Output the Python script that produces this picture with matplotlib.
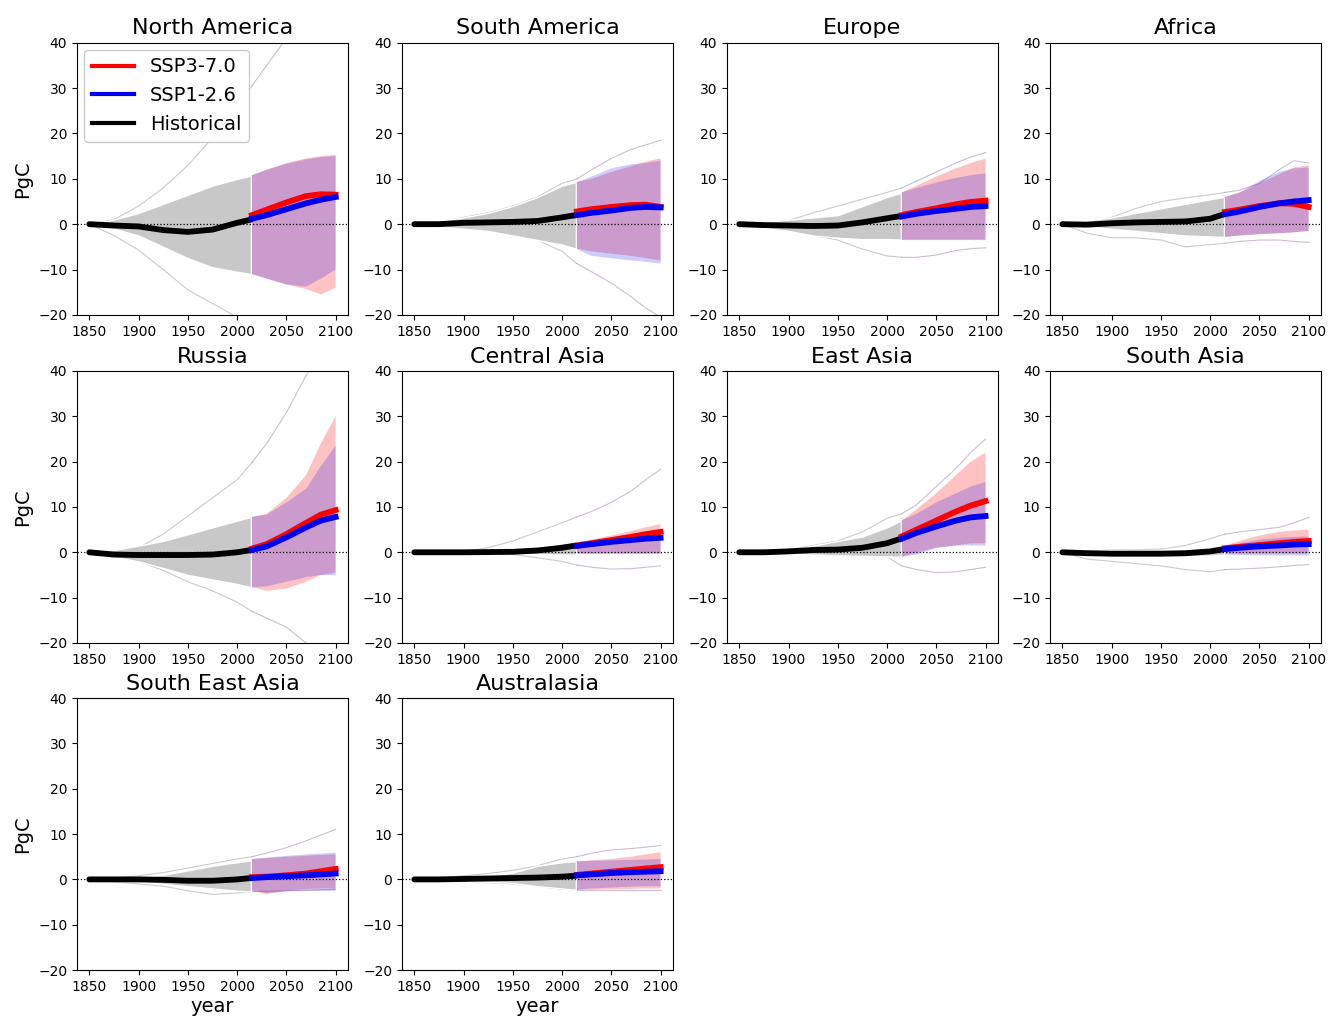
import matplotlib
matplotlib.use("Agg")
import matplotlib.pyplot as plt
from matplotlib.lines import Line2D

REGIONS = ["North America", "South America", "Europe", "Africa",
           "Russia", "Central Asia", "East Asia", "South Asia",
           "South East Asia", "Australasia"]

HIST_YEARS = [1850, 1875, 1900, 1925, 1950, 1975, 2000, 2014]
FUT_YEARS = [2015, 2030, 2050, 2070, 2085, 2100]
MODEL_YEARS = [1850, 1875, 1900, 1925, 1950, 1975, 2000, 2015, 2030, 2050, 2070, 2085, 2100]

# historical multi-model mean and spread (PgC)
HIST_MEAN = {
    "North America":   [0, -0.3, -0.5, -1.3, -1.7, -1.2, 0.3, 1.0],
    "South America":   [0, 0.0, 0.3, 0.4, 0.5, 0.7, 1.5, 2.0],
    "Europe":          [0, -0.2, -0.3, -0.4, -0.3, 0.4, 1.3, 1.8],
    "Africa":          [0, -0.1, 0.2, 0.4, 0.5, 0.6, 1.2, 2.2],
    "Russia":          [0, -0.5, -0.6, -0.6, -0.6, -0.5, 0.0, 0.5],
    "Central Asia":    [0, 0.0, 0.0, 0.05, 0.1, 0.4, 1.0, 1.5],
    "East Asia":       [0, 0.0, 0.2, 0.5, 0.6, 1.0, 2.0, 3.0],
    "South Asia":      [0, -0.2, -0.3, -0.3, -0.3, -0.2, 0.2, 0.7],
    "South East Asia": [0, 0.0, 0.0, -0.1, -0.3, -0.3, 0.0, 0.3],
    "Australasia":     [0, 0.0, 0.1, 0.2, 0.3, 0.4, 0.6, 0.8],
}
HIST_LO = {
    "North America":   [0, -1.0, -2.5, -5.0, -7.5, -9.5, -10.5, -11.0],
    "South America":   [0, -0.5, -1.0, -1.5, -2.5, -3.5, -4.5, -5.4],
    "Europe":          [0, -0.8, -1.5, -2.5, -3.0, -3.3, -3.3, -3.4],
    "Africa":          [0, -0.5, -1.0, -1.5, -2.0, -2.5, -2.7, -2.8],
    "Russia":          [0, -1.0, -2.0, -3.5, -5.0, -6.0, -7.0, -7.7],
    "Central Asia":    [0, -0.1, -0.1, -0.2, -0.3, -0.4, -0.5, -0.5],
    "East Asia":       [0, -0.2, -0.3, -0.5, -0.7, -0.8, -0.9, -1.0],
    "South Asia":      [0, -0.6, -1.0, -1.0, -1.0, -0.9, -0.7, -0.5],
    "South East Asia": [0, -0.3, -0.5, -1.0, -1.5, -2.0, -2.5, -2.7],
    "Australasia":     [0, -0.2, -0.3, -0.5, -0.8, -1.5, -2.0, -2.3],
}
HIST_HI = {
    "North America":   [0, 1.0, 2.5, 4.5, 6.5, 8.5, 10.0, 10.7],
    "South America":   [0, 0.8, 1.5, 2.5, 4.0, 6.0, 8.5, 9.3],
    "Europe":          [0, 0.5, 1.0, 1.5, 2.0, 4.0, 6.0, 6.9],
    "Africa":          [0, 0.8, 1.5, 2.5, 3.5, 4.5, 5.5, 6.0],
    "Russia":          [0, 0.5, 1.5, 2.5, 4.0, 5.5, 7.0, 7.8],
    "Central Asia":    [0, 0.1, 0.1, 0.2, 0.3, 1.0, 2.0, 2.2],
    "East Asia":       [0, 0.2, 0.5, 1.5, 2.5, 3.5, 5.5, 7.0],
    "South Asia":      [0, 0.3, 0.5, 0.5, 0.5, 0.6, 1.0, 1.5],
    "South East Asia": [0, 0.3, 0.5, 1.0, 2.0, 3.0, 3.8, 4.2],
    "Australasia":     [0, 0.2, 0.5, 0.8, 1.5, 3.0, 3.8, 4.0],
}

# SSP3-7.0 mean and spread
S370_MEAN = {
    "North America":   [2.0, 3.2, 4.8, 6.2, 6.6, 6.5],
    "South America":   [2.8, 3.3, 3.8, 4.2, 4.3, 3.8],
    "Europe":          [2.0, 2.7, 3.5, 4.4, 4.9, 5.2],
    "Africa":          [2.7, 3.2, 4.0, 4.6, 4.5, 3.8],
    "Russia":          [0.8, 1.8, 4.0, 6.5, 8.3, 9.3],
    "Central Asia":    [1.5, 2.0, 2.7, 3.4, 4.0, 4.5],
    "East Asia":       [3.5, 5.0, 7.0, 9.0, 10.3, 11.3],
    "South Asia":      [0.9, 1.2, 1.6, 2.0, 2.3, 2.5],
    "South East Asia": [0.5, 0.6, 0.9, 1.3, 1.8, 2.3],
    "Australasia":     [1.0, 1.3, 1.7, 2.1, 2.4, 2.7],
}
S370_LO = {
    "North America":   [-11.0, -12.0, -13.3, -14.3, -15.5, -14.0],
    "South America":   [-5.4, -6.0, -6.5, -7.0, -7.5, -8.0],
    "Europe":          [-3.4, -3.4, -3.4, -3.4, -3.4, -3.4],
    "Africa":          [-2.8, -2.5, -2.2, -2.0, -1.8, -1.5],
    "Russia":          [-7.7, -8.5, -8.0, -6.5, -5.0, -4.5],
    "Central Asia":    [-0.3, -0.3, -0.3, -0.3, -0.3, -0.3],
    "East Asia":       [-1.0, 0.0, 1.0, 1.5, 2.0, 2.0],
    "South Asia":      [-0.3, -0.3, -0.3, -0.3, -0.3, -0.3],
    "South East Asia": [-2.5, -3.3, -2.5, -2.1, -2.0, -2.0],
    "Australasia":     [-2.3, -2.3, -2.2, -2.1, -2.0, -2.0],
}
S370_HI = {
    "North America":   [10.8, 12.0, 13.5, 14.5, 15.0, 15.3],
    "South America":   [9.3, 10.0, 11.5, 12.8, 13.8, 14.5],
    "Europe":          [7.0, 8.5, 10.5, 12.3, 13.5, 14.5],
    "Africa":          [6.0, 7.0, 9.0, 11.0, 12.5, 13.0],
    "Russia":          [7.8, 8.5, 12.0, 17.0, 24.0, 30.0],
    "Central Asia":    [2.2, 2.8, 3.7, 4.7, 5.5, 6.2],
    "East Asia":       [7.0, 9.5, 13.0, 17.0, 20.0, 22.0],
    "South Asia":      [1.5, 2.5, 3.7, 4.5, 4.8, 5.0],
    "South East Asia": [4.5, 4.7, 5.0, 5.2, 5.4, 5.5],
    "Australasia":     [4.0, 4.2, 4.5, 5.0, 5.5, 6.0],
}

# SSP1-2.6 mean and spread
S126_MEAN = {
    "North America":   [1.2, 2.0, 3.3, 4.6, 5.4, 6.0],
    "South America":   [2.0, 2.5, 3.0, 3.6, 3.8, 3.7],
    "Europe":          [1.7, 2.3, 2.9, 3.4, 3.8, 4.0],
    "Africa":          [2.2, 2.8, 3.8, 4.6, 5.0, 5.3],
    "Russia":          [0.5, 1.3, 3.3, 5.5, 7.0, 7.8],
    "Central Asia":    [1.4, 1.8, 2.3, 2.7, 3.0, 3.2],
    "East Asia":       [3.0, 4.3, 5.7, 7.0, 7.7, 8.0],
    "South Asia":      [0.7, 1.0, 1.3, 1.5, 1.7, 1.8],
    "South East Asia": [0.3, 0.5, 0.7, 0.9, 1.1, 1.3],
    "Australasia":     [0.9, 1.1, 1.4, 1.6, 1.7, 1.8],
}
S126_LO = {
    "North America":   [-11.0, -12.0, -13.3, -13.8, -12.0, -10.0],
    "South America":   [-5.5, -7.0, -7.5, -8.0, -8.3, -8.7],
    "Europe":          [-3.5, -3.5, -3.5, -3.5, -3.5, -3.5],
    "Africa":          [-2.8, -2.5, -2.2, -2.0, -1.8, -1.5],
    "Russia":          [-7.7, -7.5, -6.5, -5.5, -5.0, -5.1],
    "Central Asia":    [-0.3, -0.3, -0.3, -0.3, -0.3, -0.3],
    "East Asia":       [-1.0, -0.5, 1.0, 1.5, 1.5, 1.5],
    "South Asia":      [-0.5, -0.6, -0.7, -0.7, -0.7, -0.7],
    "South East Asia": [-2.5, -3.0, -2.6, -2.5, -2.5, -2.5],
    "Australasia":     [-2.3, -2.0, -1.8, -1.6, -1.5, -1.5],
}
S126_HI = {
    "North America":   [10.8, 12.0, 13.3, 14.3, 14.8, 15.0],
    "South America":   [9.3, 10.5, 12.3, 13.2, 13.5, 14.0],
    "Europe":          [7.0, 8.0, 9.2, 10.2, 10.8, 11.2],
    "Africa":          [6.0, 7.0, 9.5, 11.5, 12.3, 12.5],
    "Russia":          [7.8, 8.3, 11.0, 14.0, 19.0, 23.5],
    "Central Asia":    [2.2, 2.6, 3.3, 4.0, 4.5, 5.0],
    "East Asia":       [7.0, 8.5, 11.0, 13.0, 14.5, 15.5],
    "South Asia":      [1.3, 2.0, 2.8, 3.2, 3.4, 3.5],
    "South East Asia": [4.5, 4.8, 5.2, 5.5, 5.7, 5.9],
    "Australasia":     [4.0, 4.1, 4.2, 4.3, 4.4, 4.5],
}

# outlying individual models (on MODEL_YEARS)
MODEL_UPPER = {
    "North America":   [0, 1, 4, 8, 13, 19, 26, 30.5, 35, 41, 47, 52, 56],
    "South America":   [0, 0.5, 1.5, 2.5, 4, 6, 9, 10, 12, 14.5, 16.5, 17.5, 18.5],
    "Europe":          [0, 0.3, 0.8, 2.5, 4, 5.5, 7, 8, 9.5, 11.5, 13.5, 14.8, 15.8],
    "Africa":          [0, 0.5, 1.5, 3.5, 5, 5.8, 6.5, 7, 7.5, 9, 12, 14, 13.5],
    "Russia":          [0, 0.3, 1, 4, 8, 12, 16, 19.8, 24, 30.8, 39, 44, 48],
    "Central Asia":    [0, 0, 0.2, 1, 2.5, 4.5, 6.5, 7.8, 9, 11, 13.5, 16, 18.3],
    "East Asia":       [0, 0.2, 0.6, 1.5, 2.5, 4.5, 7.5, 8.5, 10.5, 14.5, 18.5, 22, 25],
    "South Asia":      [0, 0.3, 0.5, 0.6, 0.7, 1.5, 3, 4, 4.5, 5, 5.5, 6.5, 7.7],
    "South East Asia": [0, 0.3, 0.8, 1.5, 2.5, 3.5, 4.5, 5, 5.8, 7, 8.5, 9.8, 11],
    "Australasia":     [0, 0.3, 0.8, 1.3, 2, 3, 4.5, 5, 5.8, 6.5, 6.8, 7.1, 7.5],
}
MODEL_LOWER = {
    "North America":   [0, -2.5, -5.7, -10, -14.5, -17.5, -20.5, -22, -24, -26, -28, -29, -30],
    "South America":   [0, -0.5, -1, -1.5, -2.5, -3.5, -6, -8.7, -10.5, -13, -16, -18.5, -20.5],
    "Europe":          [0, -0.8, -1.5, -2.5, -3.5, -5.5, -7, -7.3, -7.3, -6.8, -5.8, -5.4, -5.2],
    "Africa":          [0, -2, -3, -3, -3.5, -5, -4.5, -4.2, -3.8, -3.5, -3.5, -3.8, -4],
    "Russia":          [0, -1, -2, -4, -6.5, -8.5, -11, -13, -14.5, -16.5, -20, -22, -24],
    "Central Asia":    [0, 0, -0.1, -0.2, -0.5, -1.2, -2, -2.8, -3.3, -3.7, -3.6, -3.3, -3],
    "East Asia":       [0, 0, -0.1, -0.2, -0.4, -0.7, -1, -3, -3.8, -4.5, -4.3, -3.8, -3.3],
    "South Asia":      [0, -1.5, -2, -2.5, -3, -3.8, -4.3, -3.8, -3.7, -3.5, -3.2, -2.9, -2.7],
    "South East Asia": [0, -0.5, -1, -1.5, -2.5, -3.3, -3, -2.7, -2.6, -2.5, -2.4, -2.3, -2.2],
    "Australasia":     [0, -0.2, -0.4, -0.7, -1, -1.5, -2.2, -2.3, -2.3, -2.3, -2.3, -2.3, -2.3],
}

TICKS_X = [1850, 1900, 1950, 2000, 2050, 2100]
TICKS_Y = [-20, -10, 0, 10, 20, 30, 40]

fig = plt.figure(figsize=(13.28, 10.19), dpi=100)
lefts = [0.058, 0.3027, 0.5474, 0.7907]
bottoms = [0.691, 0.369, 0.048]
W, H = 0.204, 0.267

for i, reg in enumerate(REGIONS):
    r, c = divmod(i, 4)
    ax = fig.add_axes([lefts[c], bottoms[r], W, H])
    # outlier model lines
    hist_n = len([y for y in MODEL_YEARS if y <= 2015])
    for series in (MODEL_UPPER[reg], MODEL_LOWER[reg]):
        ax.plot(MODEL_YEARS[:hist_n], series[:hist_n], color="#a0a0a0", lw=0.8, alpha=0.55, zorder=1)
        ax.plot(MODEL_YEARS[hist_n - 1:], series[hist_n - 1:], color="#a07ab0", lw=0.8, alpha=0.5, zorder=1)
    # bands
    ax.fill_between(HIST_YEARS, HIST_LO[reg], HIST_HI[reg], facecolor="#c8c8c8",
                    edgecolor="white", lw=1.0, zorder=2)
    ax.fill_between(FUT_YEARS, S370_LO[reg], S370_HI[reg], facecolor="#ff0000",
                    alpha=0.24, lw=0, zorder=2)
    ax.fill_between(FUT_YEARS, S126_LO[reg], S126_HI[reg], facecolor="#0000ff",
                    alpha=0.20, lw=0, zorder=2)
    ax.axhline(0, color="black", ls=":", lw=0.9, zorder=3)
    # means
    ax.plot(HIST_YEARS, HIST_MEAN[reg], color="black", lw=4.2, zorder=5, solid_capstyle="round")
    ax.plot(FUT_YEARS, S370_MEAN[reg], color="#ff0000", lw=4.2, zorder=5)
    ax.plot(FUT_YEARS, S126_MEAN[reg], color="#0000ee", lw=4.2, zorder=6)

    ax.set_ylim(-20, 40)
    ax.set_xlim(1837.5, 2112.5)
    ax.set_xticks(TICKS_X)
    ax.set_yticks(TICKS_Y)
    ax.tick_params(labelsize=10)
    ax.set_title(reg, fontsize=16, pad=6)
    if c == 0:
        ax.set_ylabel("PgC", fontsize=14)
    if i >= 8:
        ax.set_xlabel("year", fontsize=14, labelpad=2)
    if i == 0:
        handles = [Line2D([], [], color="#ff0000", lw=3),
                   Line2D([], [], color="#0000ee", lw=3),
                   Line2D([], [], color="black", lw=3)]
        ax.legend(handles, ["SSP3-7.0", "SSP1-2.6", "Historical"], loc="upper left",
                  fontsize=14, handlelength=2.2, labelspacing=0.5, borderaxespad=0.35,
                  framealpha=1.0)

fig.savefig("out.png", dpi=100)
